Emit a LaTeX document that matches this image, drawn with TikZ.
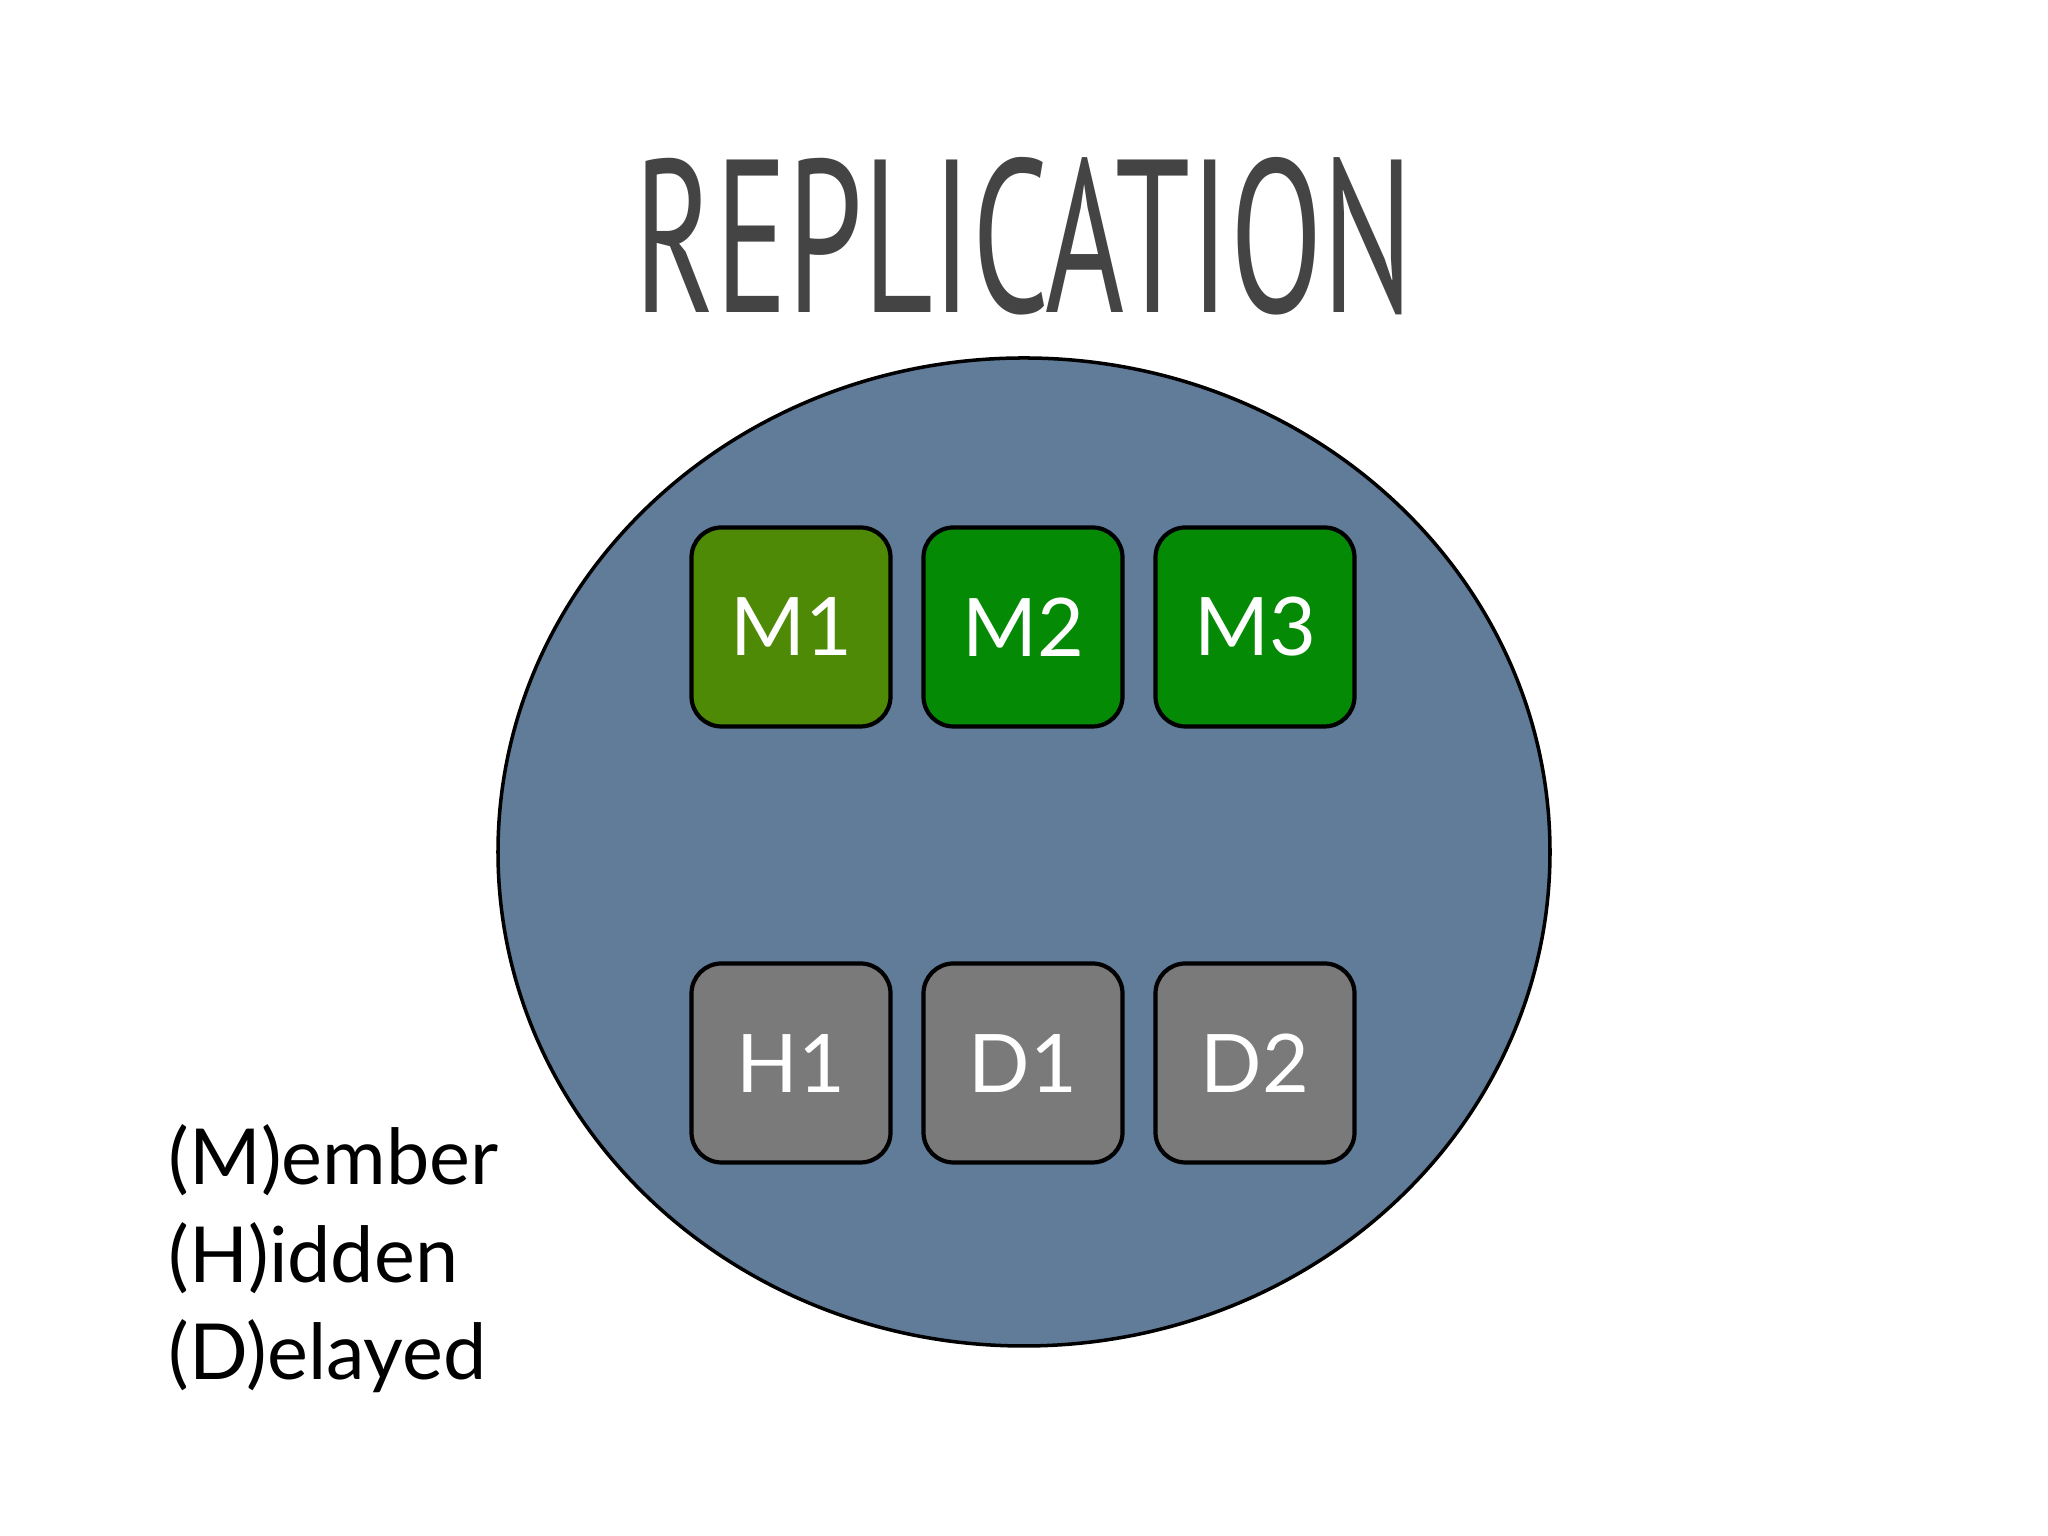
\documentclass[tikz,border=0pt]{standalone}
\usepackage{fontspec}
\setmainfont{Lato}
\newfontfamily\titlefont{PT Sans}
\usetikzlibrary{shapes.geometric}
\definecolor{blob}{HTML}{617C99}
\definecolor{gA}{HTML}{4E8A06}
\definecolor{gB}{HTML}{058A05}
\definecolor{gr}{HTML}{7A7A7A}
\definecolor{tt}{HTML}{444444}
\begin{document}
\begin{tikzpicture}[
  box/.style={draw=black, line width=1.2pt, rounded corners=0.3cm, minimum width=1.99cm, minimum height=1.99cm, text=white, font=\fontsize{23}{23}\selectfont},
  leg/.style={anchor=west, font=\fontsize{22}{22}\selectfont, inner sep=0pt}]
\useasboundingbox (0,0) rectangle (20.48,15.36);
\node[ellipse, draw=black, line width=1pt, fill=blob, minimum width=10.52cm, minimum height=9.88cm] (c) at (10.24,6.84) {};
\node[text=tt, font=\titlefont\fontsize{62}{62}\selectfont, xscale=0.62] (t) at (10.24,13.0) {REPLICATION};
\node[box, fill=gA] (m1) at (7.91,9.09) {M1};
\node[box, fill=gB] (m2) at (10.23,9.09) {M2};
\node[box, fill=gB] (m3) at (12.55,9.09) {M3};
\node[box, fill=gr] (h1) at (7.91,4.73) {H1};
\node[box, fill=gr] (d1) at (10.23,4.73) {D1};
\node[box, fill=gr] (d2) at (12.55,4.73) {D2};
\node[leg] (l1) at (1.68,3.76) {(M)ember};
\node[leg] (l2) at (1.68,2.78) {(H)idden};
\node[leg] (l3) at (1.68,1.80) {(D)elayed};
\end{tikzpicture}
\end{document}
